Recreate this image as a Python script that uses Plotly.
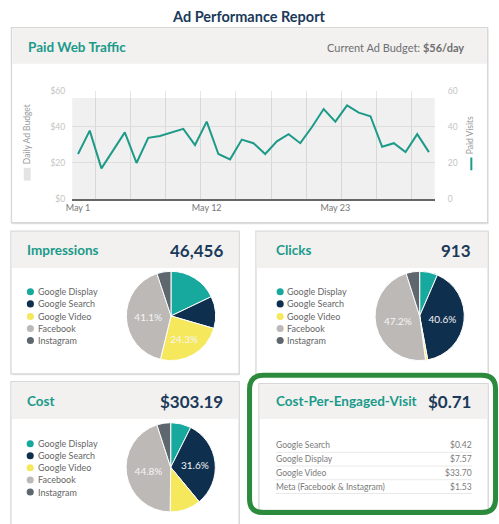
import plotly.graph_objects as go

# ---------------- data ----------------
days = [f"2023-05-{d:02d}" for d in range(1, 32)]
paid_visits = [25, 38, 17, 27, 37, 20, 34, 35, 37, 39, 30, 43, 25, 22, 33, 31,
               25, 32, 36, 31, 40, 50, 43, 52, 48, 46, 29, 31, 26, 36, 26]
daily_budget = [56, 56, 56, 56, 56, 56, 56, 56, 56, 56, 56, 56, 56, 56, 56, 56,
                56, 56, 56, 56, 56, 56, 56, 56, 56, 56, 56, 56, 56, 56, 56]
x_tick_vals = ["2023-05-01", "2023-05-12", "2023-05-23"]
x_tick_text = ["May 1", "May 12", "May 23"]
y_tick_vals = [0, 20, 40, 60]
y_left_text = ["$0", "$20", "$40", "$60"]
y_right_text = ["0", "20", "40", "60"]

channels = ["Google Display", "Google Search", "Google Video", "Facebook", "Instagram"]
channel_colors = ["#17a99e", "#0e2f4e", "#f6e85c", "#bdb9b7", "#5e676d"]
impressions_pct = [17.9, 11.6, 24.3, 41.1, 5.1]
clicks_pct = [6.5, 40.6, 0.8, 47.2, 4.9]
cost_pct = [7.4, 31.6, 11.2, 44.8, 5.0]

impressions_total = "46,456"
clicks_total = "913"
cost_total = "$303.19"
cpev_total = "$0.71"
current_budget = "$56/day"

cpev_labels = ["Google Search", "Google Display", "Google Video", "Meta (Facebook & Instagram)"]
cpev_values = ["$0.42", "$7.57", "$33.70", "$1.53"]

# ---------------- helpers ----------------
W, H = 499, 524
FONT = "Lato"
TEAL = "#1a9a8a"
NAVY = "#1b3a5a"
HEAD_BG = "#f2f1f0"
CARD_LINE = "#d7d7d7"
PAD = 2  # annotation inner padding


def px(x):
    return x / W


def py(y):
    return 1 - y / H


shapes = []
annotations = []


def rect(x0, y0, x1, y1, fill=None, line=None, lw=0, layer="below"):
    shapes.append(dict(type="rect", xref="paper", yref="paper",
                       x0=px(x0), x1=px(x1), y0=py(y1), y1=py(y0),
                       fillcolor=fill if fill else "rgba(0,0,0,0)",
                       line=dict(color=line if line else "rgba(0,0,0,0)", width=lw),
                       layer=layer))


def hline(x0, x1, y, color, lw=1, layer="above"):
    shapes.append(dict(type="line", xref="paper", yref="paper",
                       x0=px(x0), x1=px(x1), y0=py(y), y1=py(y),
                       line=dict(color=color, width=lw), layer=layer))


def circle(cx, cy, r, color):
    shapes.append(dict(type="circle", xref="paper", yref="paper",
                       x0=px(cx - r), x1=px(cx + r), y0=py(cy + r), y1=py(cy - r),
                       fillcolor=color, line=dict(width=0), layer="above"))


def text(t, x, y, size, color, anchor="left", angle=0):
    if anchor == "left":
        x -= PAD
    elif anchor == "right":
        x += PAD
    annotations.append(dict(text=t, x=px(x), y=py(y), xref="paper", yref="paper",
                            xanchor=anchor, yanchor="middle", showarrow=False,
                            textangle=angle,
                            font=dict(family=FONT, size=size, color=color)))


def card(x0, y0, x1, y1, header_bottom):
    rect(x0 + 0.8, y0 + 1.2, x1 + 0.8, y1 + 1.5, fill="#e4e4e4")
    rect(x0, y0, x1, y1, fill="white", line=CARD_LINE, lw=1.3)
    rect(x0 + 0.8, y0 + 0.8, x1 - 0.8, header_bottom, fill=HEAD_BG)


# ---------------- cards ----------------
card(5.5, 23, 487.5, 222, 60)
card(5, 230.5, 236, 376, 268)
card(253, 230.5, 488, 376, 268)
card(5, 384, 236, 540, 422)
card(256, 386, 488, 515, 422)

# title
text("<b>Ad Performance Report</b>", 245.5, 12, 14.5, NAVY, anchor="center")

# top card header
text("<b>Paid Web Traffic</b>", 22, 43, 13.5, TEAL)
text(f"Current Ad Budget: <b>{current_budget}</b>", 464, 43, 11, "#6f6f6f", anchor="right")

# axis legends for top chart
text("Daily Ad Budget", 22, 132, 8.5, "#9a9a9a", anchor="center", angle=-90)
rect(18, 166, 25, 179, fill="#e4e4e4", layer="above")
text("Paid Visits", 470.5, 133, 8.5, "#9a9a9a", anchor="center", angle=-90)
shapes.append(dict(type="line", xref="paper", yref="paper", x0=px(471), x1=px(471),
                   y0=py(168.5), y1=py(155.5), line=dict(color="#1e9a88", width=2),
                   layer="above"))

# pie card headers
text("<b>Impressions</b>", 21, 250, 13.5, TEAL)
text(f"<b>{impressions_total}</b>", 219.5, 250, 17, NAVY, anchor="right")
text("<b>Clicks</b>", 273, 250, 13.5, TEAL)
text(f"<b>{clicks_total}</b>", 471, 250, 17, NAVY, anchor="right")
text("<b>Cost</b>", 21, 404, 13.5, TEAL)
text(f"<b>{cost_total}</b>", 219.5, 404, 17, NAVY, anchor="right")
text("<b>Cost-Per-Engaged-Visit</b>", 273, 404, 13.5, TEAL)
text(f"<b>{cpev_total}</b>", 471, 404, 17, NAVY, anchor="right")

# manual legends
legend_specs = [(24.7, 32.3, [292.3, 304.7, 317.5, 329.7, 342]),
                (277.5, 284.5, [292.3, 304.7, 317.5, 329.7, 342]),
                (24.5, 32.3, [447.3, 459.5, 471.7, 484.2, 496.5])]
for cx, tx, ys in legend_specs:
    for name, col, yy in zip(channels, channel_colors, ys):
        circle(cx, yy, 3.6, col)
        text(name, tx, yy, 9, "#666666")

# CPEV table
row_y = [449, 463, 477, 491]
for lab, val, yy in zip(cpev_labels, cpev_values, row_y):
    text(lab, 273, yy, 8.5, "#7a7a7a")
    text(val, 472, yy, 8.5, "#7a7a7a", anchor="right")
    hline(273, 472, yy + 7, "#e9e9e9", 1)

# green rounded highlight border
x0g, y0g, x1g, y1g, r = 246.5, 377.5, 495.5, 517.5, 14
path = (f"M {px(x0g + r)},{py(y0g)} L {px(x1g - r)},{py(y0g)} "
        f"Q {px(x1g)},{py(y0g)} {px(x1g)},{py(y0g + r)} "
        f"L {px(x1g)},{py(y1g - r)} Q {px(x1g)},{py(y1g)} {px(x1g - r)},{py(y1g)} "
        f"L {px(x0g + r)},{py(y1g)} Q {px(x0g)},{py(y1g)} {px(x0g)},{py(y1g - r)} "
        f"L {px(x0g)},{py(y0g + r)} Q {px(x0g)},{py(y0g)} {px(x0g + r)},{py(y0g)} Z")
shapes.append(dict(type="path", xref="paper", yref="paper", path=path,
                   line=dict(color="#2c8a3c", width=5), layer="above"))

# ---------------- figure ----------------
fig = go.Figure()

fig.add_trace(go.Bar(x=days, y=daily_budget, name="Daily Ad Budget",
                     marker=dict(color="rgba(0,0,0,0.06)", line=dict(width=0)),
                     hovertemplate="%{x|%b %d}: $%{y}<extra></extra>", showlegend=False))
fig.add_trace(go.Scatter(x=days, y=paid_visits, mode="lines", name="Paid Visits",
                         line=dict(color="#1e9a88", width=2), yaxis="y2",
                         showlegend=False))


def pie_text(vals):
    return [f"{v:.1f}%" if v >= 20 else "" for v in vals]


pie_specs = [(impressions_pct, 167, 317), (clicks_pct, 418.7, 317), (cost_pct, 166.7, 471.3)]
for vals, cx, cy in pie_specs:
    rad = 45.5
    fig.add_trace(go.Pie(labels=channels, values=vals, sort=False, direction="clockwise",
                         rotation=0, text=pie_text(vals), textinfo="text",
                         textposition="inside", insidetextorientation="horizontal",
                         textfont=dict(family=FONT, size=10, color="#f5f5f5"),
                         marker=dict(colors=channel_colors, line=dict(color="white", width=1)),
                         domain=dict(x=[px(cx - rad), px(cx + rad)], y=[py(cy + rad), py(cy - rad)]),
                         showlegend=False, hoverinfo="label+percent"))

axis_font = dict(family=FONT, size=8.5, color="#c4c4c4")
fig.update_layout(
    width=W, height=H, margin=dict(l=0, r=0, t=0, b=0),
    paper_bgcolor="white", plot_bgcolor="rgba(0,0,0,0)",
    bargap=0, showlegend=False,
    font=dict(family=FONT),
    shapes=shapes, annotations=annotations,
    xaxis=dict(domain=[px(67), px(434)], anchor="y", type="date",
               range=["2023-04-30 12:00", "2023-05-31 12:00"],
               tickvals=x_tick_vals, ticktext=x_tick_text,
               tickfont=dict(family=FONT, size=9, color="#777777"),
               showgrid=False, showline=True, linecolor="#666666", linewidth=1.5,
               ticks="", zeroline=False,
               minor=dict(showgrid=True, gridcolor="#e6e6e6", gridwidth=1,
                          tick0="2023-05-02 12:00", dtick=3 * 86400000)),
    yaxis=dict(domain=[py(197.7), py(87.7)], range=[0, 60],
               tickvals=y_tick_vals, ticktext=y_left_text, tickfont=axis_font,
               showgrid=True, gridcolor="#ebebeb", zeroline=False, ticks="",
               ticklabelstandoff=6),
    yaxis2=dict(overlaying="y", side="right", range=[0, 60],
                tickvals=y_tick_vals, ticktext=y_right_text, tickfont=axis_font,
                showgrid=False, zeroline=False, ticks="", ticklabelstandoff=12),
)

fig.write_html("out.html", config={"displayModeBar": False},
               post_script="document.body.style.margin='0';"
                           "document.body.style.padding='0';"
                           "document.documentElement.style.overflow='hidden';"
                           "document.body.style.overflow='hidden';")
